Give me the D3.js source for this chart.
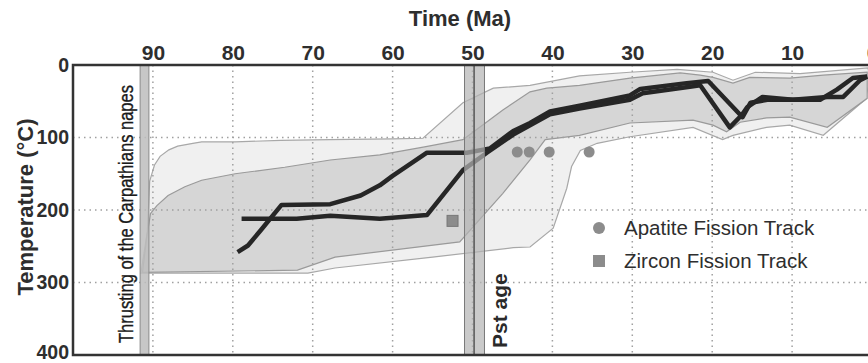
<!DOCTYPE html>
<html>
<head>
<meta charset="utf-8">
<script src="https://cdn.jsdelivr.net/npm/d3@7"></script>
<style>
  body { margin: 0; background: #fff; }
  svg { display: block; font-family: "Liberation Sans", Arial, sans-serif; }
</style>
</head>
<body>
<div class="chart"></div>
<script>
// ticks
const timeTicks = [90, 80, 70, 60, 50, 40, 30, 20, 10, 0];
const tempTicks = [0, 100, 200, 300, 400];

// envelopes [Ma, degC]
const outerUpper = [[91.5,287],[90.7,230],[90.4,160],[89.8,138],[89.1,126],[88,117],[86.9,112],[85,108],[83.9,106],[79.7,106],[74,104],[67.8,103],[60,102],[56.2,101],[51.2,52],[47.4,32],[42.8,28],[36.6,15],[30.3,10],[24.4,6],[19.9,10],[17.4,21],[14.6,10],[9,12],[0.5,4],[0.2,21]];
const outerLower = [[0.9,48],[6.1,97],[10.3,83],[13.2,86],[17.4,97],[18.7,103],[22.4,86],[30.3,99],[34.4,108],[36.5,118],[37.6,140],[38.2,170],[39.9,225],[42.8,251],[44.9,252],[55,265],[67.2,280],[70.6,287],[91.5,287]];
const innerUpper = [[91.3,286],[90.8,240],[90.3,205],[89.5,194],[88.1,180],[86,168],[83.9,159],[79.7,150],[73.5,141],[67.8,131],[61.6,124],[56,113],[51.2,103],[49.1,86],[46.2,62],[42.8,37],[40.7,32],[36.6,28],[30.3,18],[24,11],[21.5,14],[19.9,17],[17.4,25],[15.3,17],[10.3,18],[6.1,14],[0.6,10]];
const innerLower = [[0.6,46],[5.6,86],[10.3,72],[13.2,73],[16.5,79],[18.2,92],[19.9,83],[22.4,76],[30.3,80],[36.6,97],[40.9,103],[42.8,131],[46.2,177],[49.9,223],[51.6,244],[67.2,265],[71.9,283],[91.3,286]];

// best-fit paths
const pathA = [[79.4,258],[78.1,249],[76.5,228],[73.9,193],[67.8,192],[64,180],[61.6,166],[60,153],[55.7,121],[50.7,121],[47.8,115],[44.9,91],[42.8,80],[40.3,64],[36.6,56],[30.3,42],[29,33],[23.2,25],[20.5,22],[16.2,72],[15.2,52],[13.1,48],[6.5,48],[4.4,34],[2.4,18],[0.6,16]];
const pathB = [[78.9,212],[72,212],[67.8,208],[61.6,212],[55.7,207],[51.2,145],[48.2,121],[44.9,96],[42.8,83],[40.3,68],[36.6,60],[30.3,48],[28.7,39],[22.8,30],[21.5,28],[17.8,86],[16.3,69],[15.6,58],[13.7,44],[9.9,48],[5.6,44],[3.6,44],[1.5,21],[0.6,16]];

// fission track data
const apatiteAges = [44.4, 42.9, 40.4, 35.4];
const apatiteTemps = [120, 120, 120, 120];
const zirconAges = [52.5];
const zirconTemps = [215];

// event bands
const thrustBand = [91.6, 90.5];
const pstBand = [51.0, 48.5];
const pstAge = 49.8;

const width = 868, height = 363;

const svg = d3.select(".chart").append("svg")
  .attr("width", width)
  .attr("height", height);

const x = d3.scaleLinear().domain([100, 0]).range([73, 872]);
const y = d3.scaleLinear().domain([0, 400]).range([65, 355]);

const line = d3.line().x(d => x(d[0])).y(d => y(d[1]));

// envelopes
svg.append("path")
  .attr("d", line(outerUpper.concat(outerLower)) + "Z")
  .attr("fill", "#f0f0f0")
  .attr("stroke", "#a8a8a8")
  .attr("stroke-width", 1.2);

svg.append("path")
  .attr("d", line(innerUpper.concat(innerLower)) + "Z")
  .attr("fill", "#d6d6d6")
  .attr("stroke", "#9a9a9a")
  .attr("stroke-width", 1.2);

// dotted grid
svg.append("g").selectAll("line")
  .data(timeTicks.filter(d => d > 0))
  .join("line")
  .attr("x1", d => x(d)).attr("x2", d => x(d))
  .attr("y1", y(0)).attr("y2", y(400))
  .attr("stroke", "#a0a0a0")
  .attr("stroke-width", 1.5)
  .attr("stroke-dasharray", "1.5,4");

svg.append("g").selectAll("line")
  .data([100, 200, 300])
  .join("line")
  .attr("x1", x(100)).attr("x2", width)
  .attr("y1", d => y(d)).attr("y2", d => y(d))
  .attr("stroke", "#a0a0a0")
  .attr("stroke-width", 1.5)
  .attr("stroke-dasharray", "1.5,4");

// thick paths
[pathA, pathB].forEach(p => {
  svg.append("path")
    .attr("d", line(p))
    .attr("fill", "none")
    .attr("stroke", "#262626")
    .attr("stroke-width", 4.5)
    .attr("stroke-linejoin", "round");
});

// bands on top
svg.append("rect")
  .attr("x", x(thrustBand[0]))
  .attr("y", y(0))
  .attr("width", x(thrustBand[1]) - x(thrustBand[0]))
  .attr("height", y(400) - y(0))
  .attr("fill", "#bdbdbd")
  .attr("fill-opacity", 0.85)
  .attr("stroke", "#8a8a8a");

svg.append("rect")
  .attr("x", x(pstBand[0]))
  .attr("y", y(0))
  .attr("width", x(pstBand[1]) - x(pstBand[0]))
  .attr("height", y(400) - y(0))
  .attr("fill", "#b4b4b4")
  .attr("fill-opacity", 0.7)
  .attr("stroke", "#7a7a7a");

svg.append("line")
  .attr("x1", x(pstAge)).attr("x2", x(pstAge))
  .attr("y1", y(0)).attr("y2", y(400))
  .attr("stroke", "#555")
  .attr("stroke-width", 1.5);

// data points
svg.append("g").selectAll("circle")
  .data(apatiteAges)
  .join("circle")
  .attr("cx", d => x(d))
  .attr("cy", (d, i) => y(apatiteTemps[i]))
  .attr("r", 5.5)
  .attr("fill", "#8c8c8c");

svg.append("g").selectAll("rect")
  .data(zirconAges)
  .join("rect")
  .attr("x", d => x(d) - 5.5)
  .attr("y", (d, i) => y(zirconTemps[i]) - 5.5)
  .attr("width", 11).attr("height", 11)
  .attr("fill", "#8c8c8c")
  .attr("stroke", "#777");

// frame
svg.append("path")
  .attr("d", `M${width + 5},${y(0)}H${x(100)}V${y(400)}H${width + 5}`)
  .attr("fill", "none")
  .attr("stroke", "#333")
  .attr("stroke-width", 2.5);

// axes
const xAxis = svg.append("g")
  .attr("transform", `translate(0,${y(0)})`)
  .call(d3.axisTop(x).tickValues(timeTicks).tickSize(0).tickPadding(5));
xAxis.select(".domain").remove();
xAxis.selectAll("text")
  .attr("font-size", 21).attr("font-weight", "bold")
  .attr("fill", "#2e2e2e")
  .style("font-family", "Liberation Sans, Arial, sans-serif");

const yAxis = svg.append("g")
  .attr("transform", `translate(${x(100)},0)`)
  .call(d3.axisLeft(y).tickValues(tempTicks).tickSize(0).tickPadding(4));
yAxis.select(".domain").remove();
yAxis.selectAll("text")
  .attr("font-size", 19.5).attr("font-weight", "bold")
  .attr("fill", "#2e2e2e")
  .style("font-family", "Liberation Sans, Arial, sans-serif");
yAxis.selectAll(".tick").filter(d => d === 400).select("text").attr("dy", "0.2em");

// titles
svg.append("text")
  .attr("x", 460).attr("y", 26)
  .attr("text-anchor", "middle")
  .attr("font-size", 22).attr("font-weight", "bold")
  .attr("fill", "#2e2e2e")
  .text("Time (Ma)");

svg.append("text")
  .attr("transform", "translate(33,207) rotate(-90)")
  .attr("text-anchor", "middle")
  .attr("font-size", 22).attr("font-weight", "bold")
  .attr("fill", "#2e2e2e")
  .text("Temperature (°C)");

svg.append("text")
  .attr("transform", `translate(${x(thrustBand[0]) - 7},343) rotate(-90)`)
  .attr("font-size", 21)
  .attr("fill", "#1a1a1a")
  .attr("stroke", "#1a1a1a")
  .attr("stroke-width", 0.35)
  .attr("textLength", 258)
  .attr("lengthAdjust", "spacingAndGlyphs")
  .text("Thrusting of the Carpathians napes");

svg.append("text")
  .attr("transform", `translate(507,348) rotate(-90)`)
  .attr("font-size", 21)
  .attr("font-weight", "bold")
  .attr("fill", "#2a2a2a")
  .text("Pst age");

// legend
const legend = svg.append("g");
legend.append("circle")
  .attr("cx", 599).attr("cy", 228).attr("r", 6)
  .attr("fill", "#8c8c8c");
legend.append("rect")
  .attr("x", 593).attr("y", 255).attr("width", 12).attr("height", 12)
  .attr("fill", "#8c8c8c");
legend.append("text")
  .attr("x", 624).attr("y", 235)
  .attr("font-size", 20.5).attr("fill", "#2e2e2e")
  .text("Apatite Fission Track");
legend.append("text")
  .attr("x", 624).attr("y", 268)
  .attr("font-size", 20.5).attr("fill", "#2e2e2e")
  .text("Zircon Fission Track");
</script>
</body>
</html>
